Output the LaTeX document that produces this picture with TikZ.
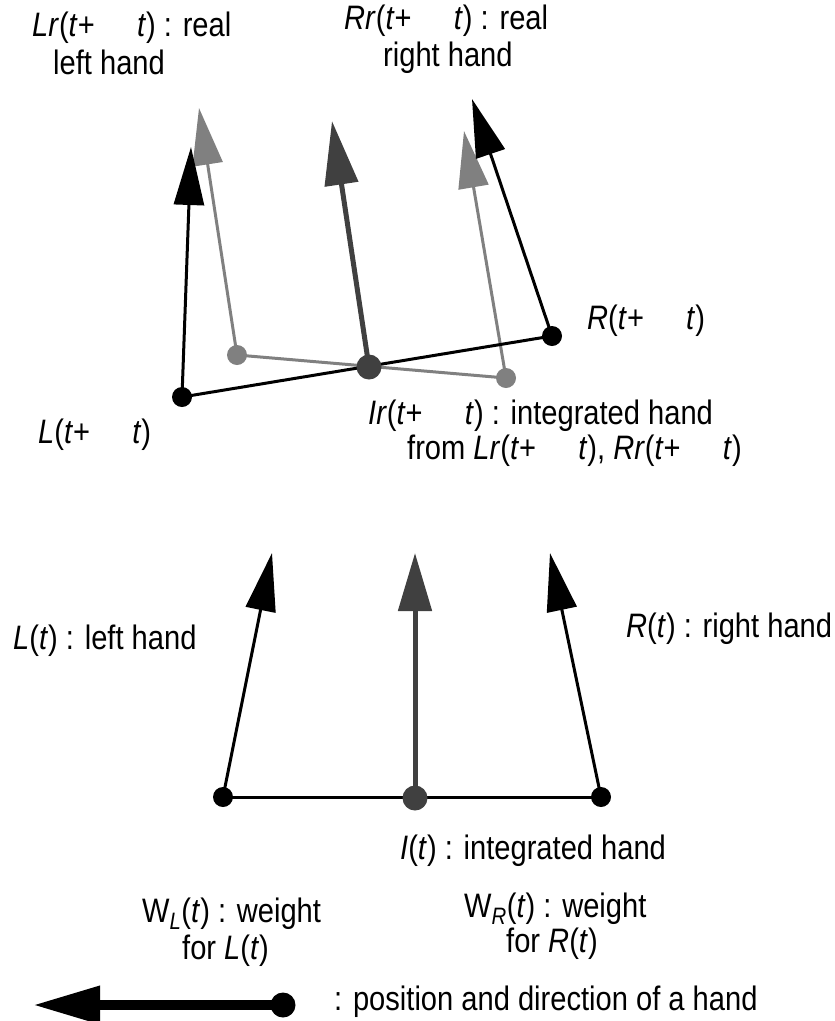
\documentclass[tikz,border=0pt]{standalone}
\usepackage{graphicx}
\usepackage{fontspec}
\setmainfont{Liberation Sans}
\usetikzlibrary{arrows.meta}
\definecolor{realgray}{HTML}{808080}
\definecolor{intgray}{HTML}{404040}
% blank space standing where the increment sign sits
\newcommand{\dgap}{\hspace{1.45em}}
% labels are set slightly tall and narrow
\newcommand{\tallt}[1]{\scalebox{0.97}[1.13]{#1}}

\begin{document}
\begin{tikzpicture}[x=1pt,y=-1pt,
  dot/.style={circle,fill=black,inner sep=0pt,minimum size=20pt},
  rdot/.style={circle,fill=realgray,inner sep=0pt,minimum size=20pt},
  idot/.style={circle,fill=intgray,inner sep=0pt,minimum size=25pt},
  hand/.style={line width=3pt,black,-{Triangle[length=58pt,width=30pt]}},
  rhand/.style={line width=3pt,realgray,-{Triangle[length=57pt,width=30pt]}},
  ihand/.style={line width=5pt,intgray,-{Triangle[length=64pt,width=33pt]}},
  link/.style={line width=3pt,black},
  rlink/.style={line width=3pt,realgray},
  lbl/.style={font=\fontsize{30}{34}\selectfont,inner sep=0pt,anchor=west}]
\useasboundingbox (0,0) rectangle (835,1021);

% ---------- hands at time t + dt ----------
\coordinate (L1) at (182,397);
\coordinate (Lr) at (237,355);
\coordinate (Ir) at (369,367);
\coordinate (Rr) at (506,378);
\coordinate (R1) at (552,336);
\coordinate (L1tip) at (191,147);
\coordinate (Lrtip) at (199,108);
\coordinate (Irtip) at (332,121);
\coordinate (Rrtip) at (464,131);
\coordinate (R1tip) at (472,99);

\draw[rlink] (Lr) -- (Rr);
\draw[rhand] (Lr) -- (Lrtip);
\draw[rhand] (Rr) -- (Rrtip);
\draw[link] (L1) -- (R1);
\draw[hand] (L1) -- (L1tip);
\draw[hand] (R1) -- (R1tip);
\draw[ihand] (Ir) -- (Irtip);
\node[rdot] (Lrd) at (Lr) {};
\node[rdot] (Rrd) at (Rr) {};
\node[dot] (L1d) at (L1) {};
\node[dot] (R1d) at (R1) {};
\node[idot] (Ird) at (Ir) {};

\node[lbl] (tLr1) at (32,28) {\tallt{\textit{Lr}(\textit{t}+\dgap\textit{t}) : real}};
\node[lbl] (tLr2) at (53,62) {\tallt{left hand}};
\node[lbl] (tRr1) at (344,21) {\tallt{\textit{Rr}(\textit{t}+\dgap\textit{t}) : real}};
\node[lbl] (tRr2) at (383,58) {\tallt{right hand}};
\node[lbl] (tR1) at (587,321) {\tallt{\textit{R}(\textit{t}+\dgap\textit{t})}};
\node[lbl] (tL1) at (38,435) {\tallt{\textit{L}(\textit{t}+\dgap\textit{t})}};
\node[lbl] (tIr1) at (368,416) {\tallt{\textit{Ir}(\textit{t}+\dgap\textit{t}) : integrated hand}};
\node[lbl] (tIr2) at (407,451) {\tallt{from \textit{Lr}(\textit{t}+\dgap\textit{t}), \textit{Rr}(\textit{t}+\dgap\textit{t})}};

% ---------- hands at time t ----------
\coordinate (L0) at (223,797);
\coordinate (I0) at (415,798);
\coordinate (R0) at (601,797);
\coordinate (L0tip) at (272,553);
\coordinate (I0tip) at (415,553);
\coordinate (R0tip) at (550,553);

\draw[link] (L0) -- (R0);
\draw[hand] (L0) -- (L0tip);
\draw[hand] (R0) -- (R0tip);
\draw[ihand,-{Triangle[length=58pt,width=33pt]}] (I0) -- (I0tip);
\node[dot] (L0d) at (L0) {};
\node[dot] (R0d) at (R0) {};
\node[idot] (I0d) at (I0) {};

\node[lbl] (tL0) at (13,641) {\tallt{\textit{L}(\textit{t}) : left hand}};
\node[lbl] (tR0) at (626,629) {\tallt{\textit{R}(\textit{t}) : right hand}};
\node[lbl] (tI0) at (400,851) {\tallt{\textit{I}(\textit{t}) : integrated hand}};
\node[lbl] (tWL1) at (142,914) {\tallt{W\textsubscript{\textit{L}}(\textit{t}) : weight}};
\node[lbl] (tWL2) at (182,951) {\tallt{for \textit{L}(\textit{t})}};
\node[lbl] (tWR1) at (464,909) {\tallt{W\textsubscript{\textit{R}}(\textit{t}) : weight}};
\node[lbl] (tWR2) at (506,944) {\tallt{for \textit{R}(\textit{t})}};

% ---------- legend ----------
\coordinate (keytip) at (33,1005);
\coordinate (keybase) at (283,1005);
\draw[line width=10pt,-{Triangle[length=67pt,width=36pt]}] (keybase) -- (keytip);
\node[dot,minimum size=25pt] (keyd) at (keybase) {};
\node[lbl] (tkey) at (334,1002) {\tallt{: position and direction of a hand}};
\end{tikzpicture}
\end{document}
